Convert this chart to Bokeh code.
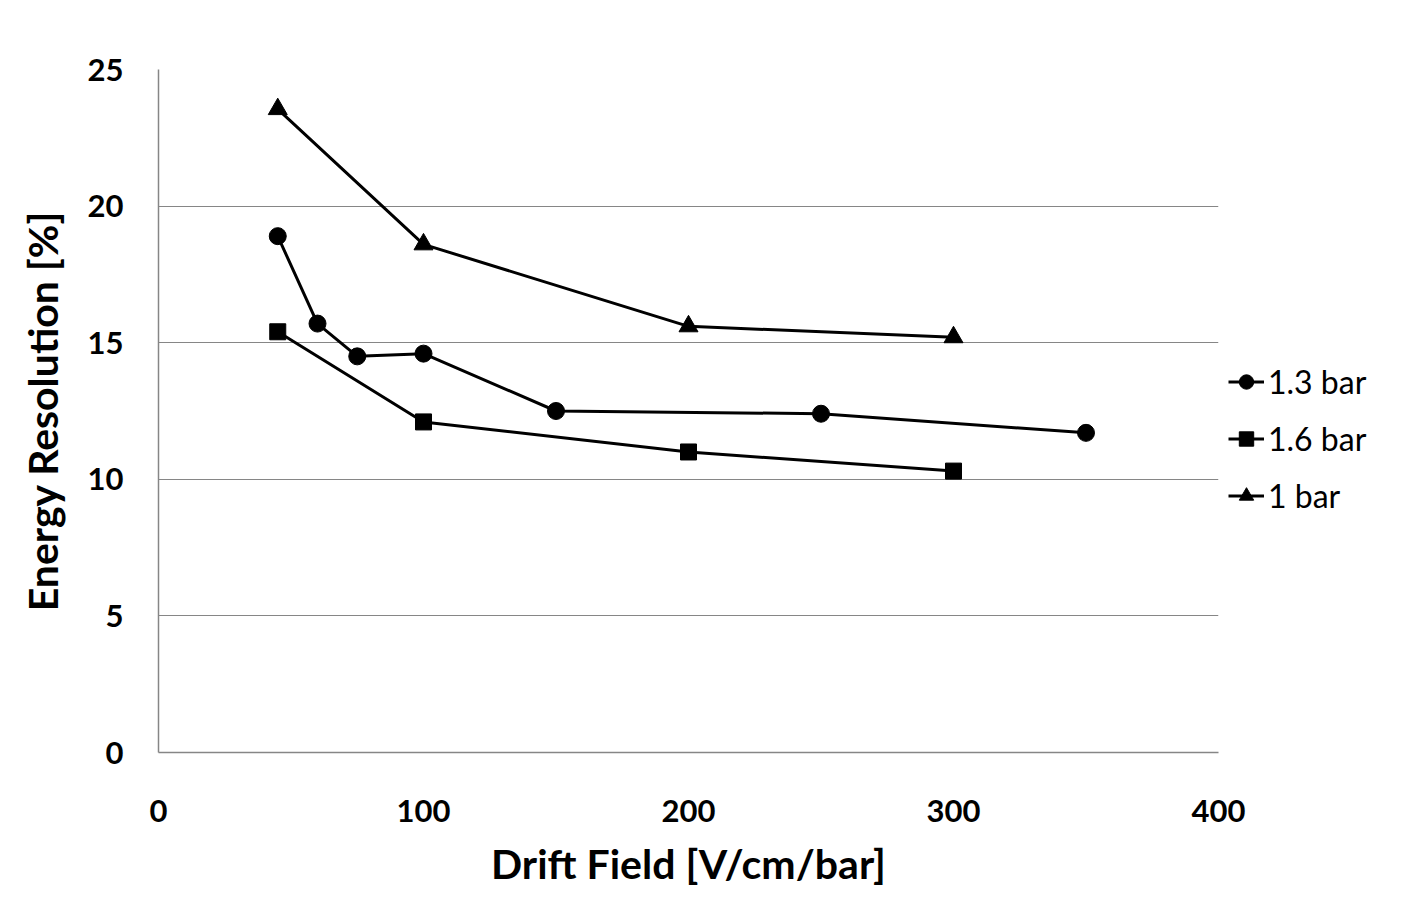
from bokeh.plotting import figure
from bokeh.models import Legend, LegendItem, Range1d, FixedTicker
from bokeh.embed import file_html
from bokeh.resources import INLINE

x_13 = [45, 60, 75, 100, 150, 250, 350]
y_13 = [18.9, 15.7, 14.5, 14.6, 12.5, 12.4, 11.7]
x_16 = [45, 100, 200, 300]
y_16 = [15.4, 12.1, 11.0, 10.3]
x_10 = [45, 100, 200, 300]
y_10 = [23.55, 18.6, 15.6, 15.2]
x_ticks = [0, 100, 200, 300, 400]
y_ticks = [0, 5, 10, 15, 20, 25]

FONT = "Lato"

p = figure(frame_width=1060, frame_height=683,
           output_backend="svg", toolbar_location=None,
           x_range=Range1d(0, 400), y_range=Range1d(0, 25),
           min_border_left=158, min_border_top=69, min_border_bottom=139,
           min_border_right=10)
p.outline_line_color = None
p.background_fill_color = "white"

p.xgrid.grid_line_color = None
p.ygrid.grid_line_color = "#868686"
p.ygrid.grid_line_width = 1

for ax in (p.xaxis[0], p.yaxis[0]):
    ax.axis_line_color = "#868686"
    ax.axis_line_width = 1.5
    ax.major_tick_line_color = None
    ax.minor_tick_line_color = None
    ax.major_label_text_font = FONT
    ax.major_label_text_font_style = "bold"
    ax.major_label_text_font_size = "31px"
    ax.major_label_text_color = "black"
    ax.axis_label_text_font = FONT
    ax.axis_label_text_font_style = "bold"
    ax.axis_label_text_font_size = "41px"
    ax.axis_label_text_color = "black"

p.xaxis.ticker = FixedTicker(ticks=x_ticks)
p.yaxis.ticker = FixedTicker(ticks=y_ticks)
p.xaxis.axis_label = "Drift Field [V/cm/bar]"
p.yaxis.axis_label = "Energy Resolution [%]"
p.xaxis.major_label_standoff = 41
p.yaxis.major_label_standoff = 29
p.xaxis.axis_label_standoff = 14
p.yaxis.axis_label_standoff = 18

l1 = p.line(x_13, y_13, line_color="black", line_width=3)
m1 = p.scatter(x_13, y_13, marker="circle", size=17, color="black")
l2 = p.line(x_16, y_16, line_color="black", line_width=3)
m2 = p.scatter(x_16, y_16, marker="square", size=16, color="black")
l3 = p.line(x_10, y_10, line_color="black", line_width=3)
m3 = p.scatter(x_10, y_10, marker="triangle", size=19, color="black")

legend = Legend(items=[
    LegendItem(label="1.3 bar", renderers=[l1, m1]),
    LegendItem(label="1.6 bar", renderers=[l2, m2]),
    LegendItem(label="1 bar", renderers=[l3, m3]),
], location=(10, 228))
legend.label_text_font = FONT
legend.label_text_font_size = "32px"
legend.label_text_color = "black"
legend.glyph_width = 36
legend.glyph_height = 57
legend.label_height = 57
legend.label_standoff = 4
legend.spacing = 0
legend.padding = 0
legend.margin = 0
legend.border_line_color = None
legend.background_fill_alpha = 0
p.add_layout(legend, "right")

open("out.html", "w").write(file_html(p, INLINE))
